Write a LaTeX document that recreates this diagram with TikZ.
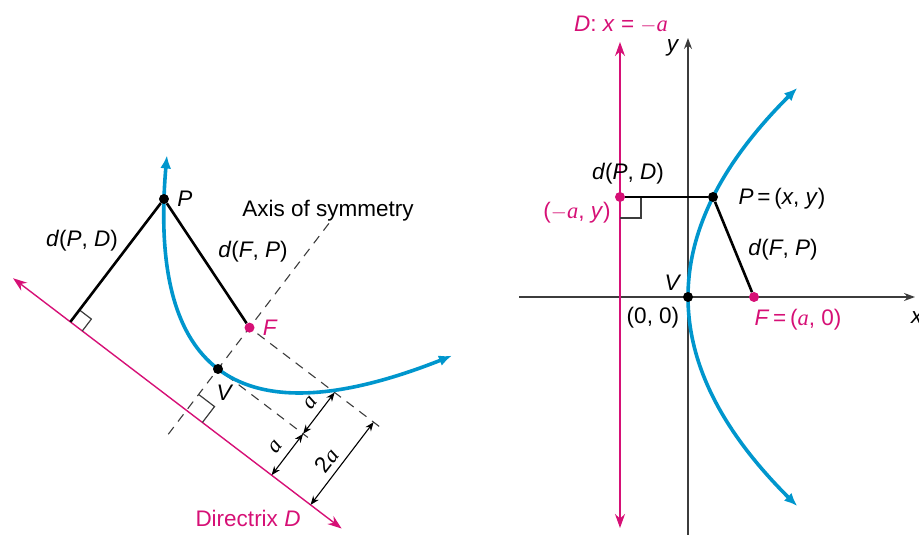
\documentclass[tikz,border=0pt]{standalone}
\usepackage{fontspec}
\setmainfont{Liberation Sans}
\newfontfamily\avarfont{Liberation Serif}
\usetikzlibrary{arrows.meta,positioning}
\definecolor{curveblue}{RGB}{0,150,205}
\definecolor{dirpink}{RGB}{214,16,118}
\definecolor{axisgray}{RGB}{60,60,60}
\newcommand{\itl}[1]{\textit{#1}}
\newcommand{\vara}{{\avarfont\itshape a}}
\tikzstyle{lbl}=[font=\fontsize{22.5}{26}\selectfont, inner sep=0pt]
\tikzstyle{pinklbl}=[lbl, text=dirpink]
\tikzstyle{dot}=[circle, fill=black, inner sep=0pt, minimum size=10pt]
\tikzstyle{pinkdot}=[dot, fill=dirpink]
\tikzstyle{parab}=[curveblue, line width=3.6pt, {Latex[length=13pt,width=11pt]}-{Latex[length=13pt,width=11pt]}]
\tikzstyle{seg}=[black, line width=2.6pt]
\tikzstyle{dashline}=[axisgray, line width=1.1pt, dash pattern=on 9pt off 7pt]
\tikzstyle{dirline}=[dirpink, line width=1.4pt, {Stealth[length=14pt,width=10pt]}-{Stealth[length=14pt,width=10pt]}]
\tikzstyle{dimline}=[black, line width=1.1pt, {Stealth[length=9pt,width=7pt]}-{Stealth[length=9pt,width=7pt]}]
\tikzstyle{rtangle}=[axisgray, line width=1.2pt]
\tikzstyle{axisline}=[axisgray, line width=1.3pt, -{Stealth[length=11pt,width=8pt]}]

\begin{document}
\begin{tikzpicture}[x=1pt, y=1pt]
\useasboundingbox (0,0) rectangle (919,535);
% left: the parabola turned with its directrix
\begin{scope}[shift={(218,166)}, rotate=-37.3]
	\draw[dashline] (0,-82) -- (0,185);
	\draw[dashline] (10,0) -- (113,0);
	\draw[dashline] (10,52) -- (163,52);
	\draw[dirline] (-218,-52) -- (195,-52);
	\coordinate (Q) at (-146,-52);
	\draw[rtangle] (-131,-52) -- (-131,-37) -- (-146,-37);
	\draw[rtangle] (0,-32) -- (20,-32) -- (20,-52);
	\draw[parab] plot[domain=-170:178, samples=80] (\x, {(\x/10)*(\x/10)/2.08});
	\node[dot] (V) at (0,0) {};
	\node[pinkdot] (F) at (0,52) {};
	\node[dot] (P) at (-146,102.5) {};
	\draw[seg] (P) -- (Q);
	\draw[seg] (P) -- (F);
	\coordinate (a0) at (107,-52);
	\coordinate (a1) at (107,0);
	\coordinate (a2) at (107,52);
	\coordinate (b0) at (156,-52);
	\coordinate (b2) at (156,52);
	\draw[dimline] (a0) -- (a1);
	\draw[dimline] (a1) -- (a2);
	\draw[dimline] (b0) -- (b2);
	\node[lbl, rotate=52.7] (alow) at (93,-27) {\vara};
	\node[lbl, rotate=52.7] (aup) at (94,29) {\vara};
	\node[lbl, rotate=52.7] (twoa) at (142,-7) {2\vara};
\end{scope}
\node[lbl, right=8pt of P] (Plbl) {\itl{P}};
\node[pinklbl, right=8pt of F] (Flbl) {\itl{F}};
\node[lbl] (Vlbl) at (225,142) {\itl{V}};
\node[lbl] (PDlbl) at (82,294) {\itl{d}(\itl{P}, \itl{D})};
\node[lbl] (FPlbl) at (253,283) {\itl{d}(\itl{F}, \itl{P})};
\node[lbl] (axlbl) at (328,324) {Axis of symmetry};
\node[pinklbl] (dirlbl) at (248,17) {Directrix \itl{D}};
% right: the parabola in xy coordinates
\coordinate (xl) at (519,238);
\coordinate (xr) at (915,238);
\coordinate (yb) at (688,0);
\coordinate (yt) at (688,497);
\coordinate (Db) at (620,7);
\coordinate (Dt) at (620,493);
\draw[axisline] (xl) -- (xr);
\draw[axisline] (yb) -- (yt);
\draw[dirline] (Db) -- (Dt);
\draw[rtangle] (620,317) -- (641,317) -- (641,338);
\draw[parab, shift={(688,238)}] plot[domain=-209:209, samples=80] ({(\x/10)*(\x/10)/4}, \x);
\node[dot] (O) at (688,238) {};
\node[pinkdot] (Fr) at (754,238) {};
\node[pinkdot] (Dp) at (620,338) {};
\node[dot] (Pr) at (713,338) {};
\draw[seg] (Pr) -- (Dp);
\draw[seg] (Pr) -- (Fr);
\node[pinklbl] (Deq) at (621,510) {\itl{D}: \itl{x} = $-$\vara};
\node[lbl] (ylbl) at (673,487) {\itl{y}};
\node[lbl, anchor=west] (xlbl) at (911,217) {\itl{x}};
\node[lbl] (PDr) at (628,361) {\itl{d}(\itl{P}, \itl{D})};
\node[pinklbl] (Dplbl) at (577,322) {($-$\vara, \itl{y})};
\node[lbl] (Prlbl) at (782,336) {\itl{P}\,=\,(\itl{x}, \itl{y})};
\node[lbl] (FPr) at (783,285) {\itl{d}(\itl{F}, \itl{P})};
\node[lbl] (Vr) at (673,252) {\itl{V}};
\node[lbl] (Or) at (653,217) {(0, 0)};
\node[pinklbl] (Frlbl) at (798,215) {\itl{F}\,=\,(\vara, 0)};
\end{tikzpicture}
\end{document}
